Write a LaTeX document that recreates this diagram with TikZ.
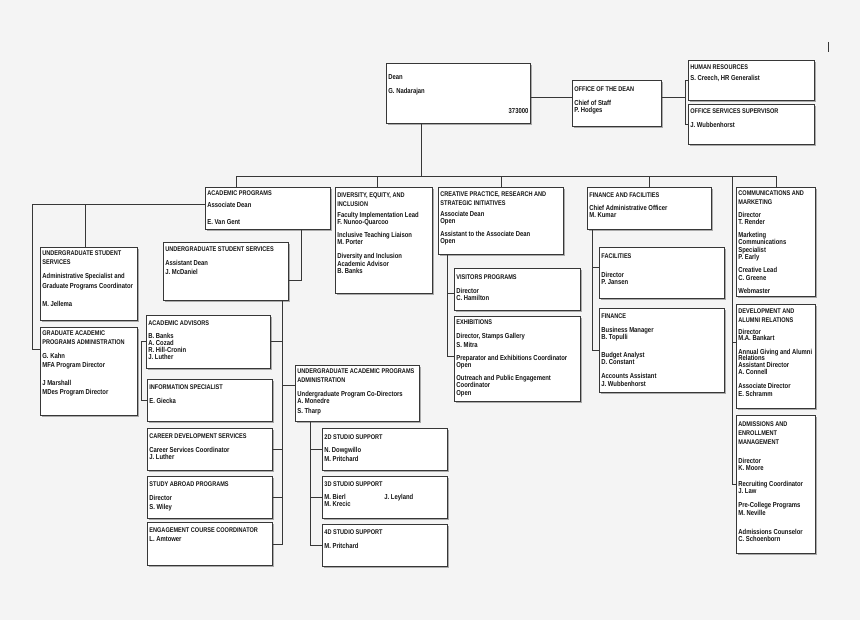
\documentclass[tikz,border=0pt]{standalone}
\usepackage{fontspec}
\setmainfont{Liberation Sans}[FakeStretch=0.82]
\usepackage{xcolor}
\usetikzlibrary{shadows}

\definecolor{bgcol}{RGB}{244,244,244}
\definecolor{linecol}{RGB}{55,55,55}
\definecolor{inkcol}{RGB}{20,20,20}

% heading lines of a box, optional gap below
\newcommand{\ttl}[2][5.6]{{\bfseries\fontsize{6.8}{9}\selectfont #2\par}\vspace{#1pt}}

\begin{document}
\begin{tikzpicture}[
    x=1pt, y=-1pt,
    box/.style 2 args = {draw=linecol, fill=white, line width=0.8pt, anchor=north west,
        inner xsep=2pt, inner ysep=3pt, text=inkcol, font=\bfseries,
        drop shadow={shadow xshift=2pt, shadow yshift=-2pt, fill=black, opacity=0.3},
        execute at begin node={\begin{minipage}[t][\dimexpr#2pt-6pt\relax][t]{\dimexpr#1pt-4pt\relax}\raggedright\fontsize{7.2}{7.4}\selectfont},
        execute at end node={\end{minipage}}},
    link/.style = {draw=linecol, line width=0.8pt}
]
\fill[bgcol] (0,0) rectangle (860,620);
\useasboundingbox (0,0) rectangle (860,620);

% Dean and office
\node[box={144}{60}] (dean) at (386,63) {\vspace*{8.4pt}Dean\\[6.6pt]G. Nadarajan\\[12.6pt]\mbox{}\hfill 373000};
\node[box={89}{46}] (ofc) at (572,80) {\vspace*{3pt}\ttl[6.6]{OFFICE OF THE DEAN}Chief of Staff\\P. Hodges};
\node[box={126}{40}] (hr) at (688,60) {\vspace*{1pt}\ttl[3.6]{HUMAN RESOURCES}S. Creech, HR Generalist};
\node[box={126}{40}] (oss) at (688,104) {\vspace*{1pt}\ttl[6.6]{OFFICE SERVICES SUPERVISOR}J. Wubbenhorst};

% Top row
\node[box={125}{42}] (acad) at (205,187) {\ttl[4.6]{ACADEMIC PROGRAMS}Associate Dean\\[9.6pt]E. Van Gent};
\node[box={97}{106}] (dei) at (335,187) {\vspace*{2pt}\ttl[3.6]{DIVERSITY, EQUITY, AND\\INCLUSION}Faculty Implementation Lead\\F. Nunoo-Quarcoo\\[5.6pt]Inclusive Teaching Liaison\\M. Porter\\[6.6pt]Diversity and Inclusion\\Academic Advisor\\B. Banks};
\node[box={125}{67}] (cps) at (438,187) {\vspace*{1pt}\ttl[3.6]{CREATIVE PRACTICE, RESEARCH AND\\STRATEGIC INITIATIVES}Associate Dean\\Open\\[5.6pt]Assistant to the Associate Dean\\Open};
\node[box={124}{42}] (ff) at (587,187) {\vspace*{2pt}\ttl[5.6]{FINANCE AND FACILITIES}Chief Administrative Officer\\M. Kumar};
\node[box={79}{109}] (comm) at (736,187) {\ttl[5.6]{COMMUNICATIONS AND\\MARKETING}Director\\T. Render\\[5.6pt]Marketing\\Communications\\Specialist\\P. Early\\[5.6pt]Creative Lead\\C. Greene\\[5.6pt]Webmaster};

% Academic programs branch
\node[box={97}{73}] (ugssL) at (40,247) {\ttl[6.6]{UNDERGRADUATE STUDENT\\SERVICES}Administrative Specialist and\\[2.6pt]Graduate Programs Coordinator\\[10.6pt]M. Jellema};
\node[box={97}{88}] (grad) at (40,327) {\ttl[6.6]{GRADUATE ACADEMIC\\PROGRAMS ADMINISTRATION}G. Kahn\\[1.6pt]MFA Program Director\\[10.6pt]J Marshall\\[1.6pt]MDes Program Director};
\node[box={125}{58}] (ugssC) at (163,242) {\vspace*{1pt}\ttl[6.6]{UNDERGRADUATE STUDENT SERVICES}Assistant Dean\\[1.6pt]J. McDaniel};
\node[box={124}{53}] (adv) at (146,315) {\vspace*{2pt}\ttl[5.6]{ACADEMIC ADVISORS}B. Banks\\[-0.4pt]A. Cozad\\[-0.4pt]R. Hill-Cronin\\[-0.4pt]J. Luther};
\node[box={125}{42}] (info) at (147,379) {\vspace*{2pt}\ttl[6.6]{INFORMATION SPECIALIST}E. Giecka};
\node[box={125}{42}] (career) at (147,428) {\vspace*{2pt}\ttl[6.6]{CAREER DEVELOPMENT SERVICES}Career Services Coordinator\\J. Luther};
\node[box={125}{42}] (abroad) at (147,476) {\vspace*{2pt}\ttl[6.6]{STUDY ABROAD PROGRAMS}Director\\[1.6pt]S. Wiley};
\node[box={125}{43}] (engage) at (147,522) {\vspace*{2pt}\ttl[1.6]{ENGAGEMENT COURSE COORDINATOR}L. Amtower};
\node[box={124}{56}] (uapa) at (295,365) {\ttl[6.6]{UNDERGRADUATE ACADEMIC PROGRAMS\\ADMINISTRATION}Undergraduate Program Co-Directors\\A. Monedre\\[2.6pt]S. Tharp};
\node[box={125}{42}] (s2d) at (322,428) {\vspace*{3pt}\ttl[5.6]{2D STUDIO SUPPORT}N. Dowgwillo\\[1.6pt]M. Pritchard};
\node[box={125}{42}] (s3d) at (322,476) {\vspace*{2pt}\ttl[5.6]{3D STUDIO SUPPORT}\makebox[60pt][l]{M. Bierl}J. Leyland\\M. Krecic};
\node[box={125}{42}] (s4d) at (322,524) {\vspace*{2pt}\ttl[6.6]{4D STUDIO SUPPORT}M. Pritchard};

% Creative practice, finance, communications branches
\node[box={126}{42}] (visit) at (454,268) {\vspace*{3pt}\ttl[6.6]{VISITORS PROGRAMS}Director\\C. Hamilton};
\node[box={126}{85}] (exhib) at (454,316) {\ttl[6.6]{EXHIBITIONS}Director, Stamps Gallery\\[1.6pt]S. Mitra\\[5.6pt]Preparator and Exhibitions Coordinator\\Open\\[5.6pt]Outreach and Public Engagement\\Coordinator\\Open};
\node[box={125}{51}] (facil) at (599,247) {\vspace*{3pt}\ttl[11.6]{FACILITIES}Director\\P. Jansen};
\node[box={125}{84}] (fin) at (599,308) {\vspace*{2pt}\ttl[6.6]{FINANCE}Business Manager\\B. Topulli\\[10.6pt]Budget Analyst\\D. Constant\\[6.6pt]Accounts Assistant\\J. Wubbenhorst};
\node[box={79}{104}] (dev) at (736,304) {\vspace*{1pt}\ttl[4.6]{DEVELOPMENT AND\\ALUMNI RELATIONS}Director\\[-1pt]M.A. Bankart\\[6.6pt]Annual Giving and Alumni\\[-1pt]Relations\\[-0.4pt]Assistant Director\\[-0.4pt]A. Connell\\[6.6pt]Associate Director\\E. Schramm};
\node[box={79}{138}] (adm) at (736,415) {\vspace*{3pt}\ttl[11.6]{ADMISSIONS AND\\ENROLLMENT\\MANAGEMENT}Director\\K. Moore\\[8.6pt]Recruiting Coordinator\\J. Law\\[6.6pt]Pre-College Programs\\M. Neville\\[11.6pt]Admissions Counselor\\C. Schoenborn};

% Connectors
\draw[link] ([yshift=-4pt]dean.east) -- ([yshift=-4pt]dean.east -| ofc.west);
\draw[link] ([yshift=6pt]ofc.east) -- ++(24,0);
\draw[link] (hr.west) -- ++(-3,0) |- (oss.west);
\draw[link] ([xshift=-37pt]dean.south) -- ++(0,53) coordinate (busmid);
\draw[link] ([xshift=-32pt]acad.north) |- (comm.north |- busmid) -- (comm.north);
\draw[link] ([xshift=-7pt]dei.north) -- ([xshift=-7pt]dei.north |- busmid);
\draw[link] (cps.north) -- (cps.north |- busmid);
\draw[link] (ff.north) -- (ff.north |- busmid);
\draw[link] ([xshift=-4pt]comm.north west |- busmid) |- (adm.west);
\draw[link] ([yshift=14pt]dev.west) -- ++(-4,0);

\draw[link] ([yshift=4pt]acad.west) -- ++(-173,0) coordinate (lspine) |- ([yshift=22pt]grad.west);
\draw[link] ([xshift=-3.5pt]ugssL.north) -- ([xshift=-3.5pt]ugssL.north |- lspine);
\draw[link] ([xshift=-29pt]acad.south east) |- ([yshift=-9pt]ugssC.east);
\draw[link] ([xshift=-6pt]ugssC.south east) coordinate (uspine) |- (engage.east);
\draw[link] (adv.east) -- (adv.east -| uspine);
\draw[link] ([yshift=8pt]uapa.west) -- ([yshift=8pt]uapa.west -| uspine);
\draw[link] (career.east) -- (career.east -| uspine);
\draw[link] (abroad.east) -- (abroad.east -| uspine);
\draw[link] (adv.west) -- ++(-5,0) |- (info.west);

\draw[link] ([xshift=15pt]uapa.south west) coordinate (uaspine) |- (s4d.west);
\draw[link] (s2d.west) -- (s2d.west -| uaspine);
\draw[link] (s3d.west) -- (s3d.west -| uaspine);

\draw[link] ([xshift=9pt]cps.south west) coordinate (cpspine) |- ([yshift=2.5pt]exhib.west);
\draw[link] ([yshift=-4pt]visit.west) -- ([yshift=-4pt]visit.west -| cpspine);
\draw[link] ([xshift=5pt]ff.south west) coordinate (ffspine) |- (fin.west);
\draw[link] ([yshift=5pt]facil.west) -- ([yshift=5pt]facil.west -| ffspine);

% stray tick at top right
\draw[link] (828,42) -- (828,52);
\end{tikzpicture}
\end{document}
